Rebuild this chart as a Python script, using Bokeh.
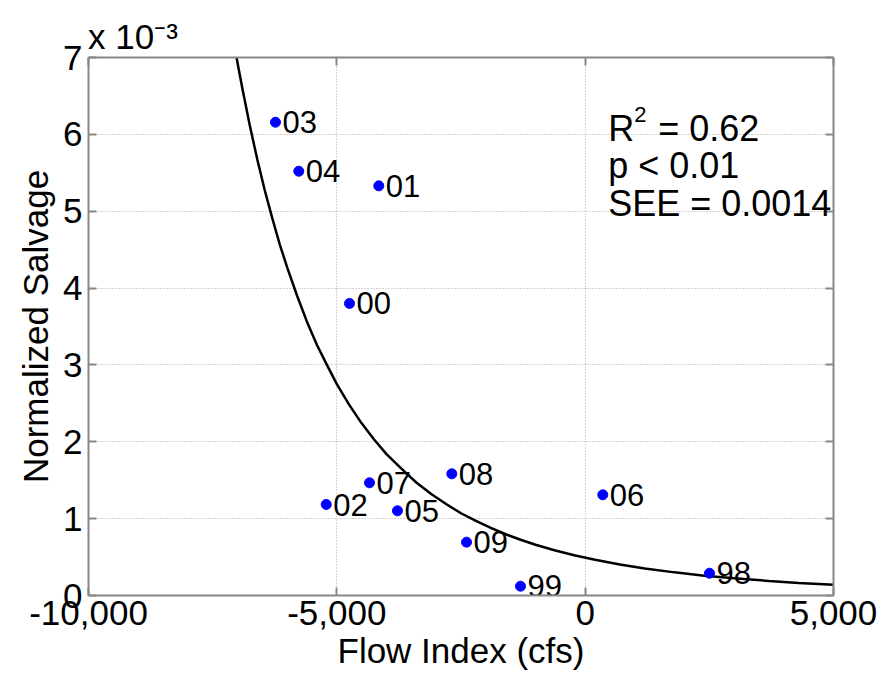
from bokeh.plotting import figure
from bokeh.models import FixedTicker, LinearAxis, Label, Range1d, ColumnDataSource
from bokeh.core.properties import value
from bokeh.embed import file_html
from bokeh.resources import INLINE

# ---- data ----
years = ["03", "04", "01", "00", "08", "07", "02", "05", "06", "09", "99", "98"]
flow_index = [-6235, -5766, -4155, -4745, -2685, -4342, -5214, -3779, 355, -2389, -1302, 2503]
salvage = [6.158e-3, 5.52e-3, 5.33e-3, 3.80e-3, 1.583e-3, 1.466e-3, 1.184e-3, 1.102e-3,
           1.31e-3, 0.694e-3, 0.121e-3, 0.29e-3]

# fitted curve, points
fit_x = [-7020, -6900, -6750, -6600, -6450, -6300, -6150, -6000, -5800, -5600, -5400, -5200,
         -5000, -4750, -4500, -4250, -4000, -3700, -3400, -3100, -2800, -2500, -2200, -1900,
         -1600, -1300, -1000, -600, -200, 200, 700, 1200, 1800, 2400, 3000, 3700, 4300, 5000]
fit_y = [7.00e-3, 6.59e-3, 6.11e-3, 5.67e-3, 5.27e-3, 4.91e-3, 4.57e-3, 4.27e-3, 3.90e-3,
         3.56e-3, 3.26e-3, 3.00e-3, 2.75e-3, 2.48e-3, 2.24e-3, 2.03e-3, 1.84e-3, 1.65e-3,
         1.47e-3, 1.32e-3, 1.19e-3, 1.07e-3, 0.970e-3, 0.879e-3, 0.797e-3, 0.725e-3,
         0.661e-3, 0.586e-3, 0.520e-3, 0.464e-3, 0.403e-3, 0.352e-3, 0.301e-3, 0.258e-3,
         0.223e-3, 0.189e-3, 0.164e-3, 0.141e-3]

x_ticks = [-10000, -5000, 0, 5000]
x_tick_labels = ["-10,000", "-5,000", "0", "5,000"]
y_ticks = [0, 1e-3, 2e-3, 3e-3, 4e-3, 5e-3, 6e-3, 7e-3]
y_tick_labels = ["0", "1", "2", "3", "4", "5", "6", "7"]
exponent_text = "x 10\u207b\u00b3"

stats_lines = ["p < 0.01", "SEE = 0.0014"]

FONT = "Liberation Sans"
AXIS_COLOR = "#888888"

p = figure(width=889, height=675, output_backend="svg", toolbar_location=None,
           x_range=Range1d(x_ticks[0], x_ticks[-1]), y_range=Range1d(y_ticks[0], y_ticks[-1]),
           min_border_left=88, min_border_right=56, min_border_top=57, min_border_bottom=80,
           x_axis_location=None, y_axis_location=None)
p.outline_line_color = None
p.background_fill_color = "white"
p.border_fill_color = "white"

xt = FixedTicker(ticks=x_ticks, minor_ticks=[])
yt = FixedTicker(ticks=y_ticks, minor_ticks=[])


def style_axis(ax):
    ax.axis_line_color = AXIS_COLOR
    ax.axis_line_width = 2
    ax.major_tick_line_color = AXIS_COLOR
    ax.major_tick_line_width = 2
    ax.major_tick_in = 8
    ax.major_tick_out = 0
    ax.minor_tick_line_color = None
    ax.major_label_text_font = FONT
    ax.major_label_text_color = "black"
    ax.major_label_text_font_size = "35px"
    ax.axis_label_text_font = FONT
    ax.axis_label_text_font_size = "35px"
    ax.axis_label_text_font_style = "normal"
    ax.axis_label_text_color = "black"


# bottom axis
xb = LinearAxis(ticker=xt, major_label_overrides=dict(zip(x_ticks, x_tick_labels)),
                axis_label="Flow Index (cfs)")
style_axis(xb)
xb.major_label_standoff = 5
xb.axis_label_standoff = 3
p.add_layout(xb, "below")

# top axis (box edge), carrying the exponent note at its left end
top_labels = {t: "" for t in x_ticks}
top_labels[x_ticks[0]] = "\u00a0" * 9 + exponent_text
xa = LinearAxis(ticker=xt, major_label_overrides=top_labels)
style_axis(xa)
xa.major_label_standoff = 2
p.add_layout(xa, "above")

# left axis
yl = LinearAxis(ticker=yt, major_label_overrides=dict(zip(y_ticks, y_tick_labels)),
                axis_label="Normalized Salvage")
style_axis(yl)
yl.major_label_standoff = 6
yl.axis_label_standoff = 5
p.add_layout(yl, "left")

# right axis (box edge)
yr = LinearAxis(ticker=yt, major_label_overrides={t: "" for t in y_ticks})
style_axis(yr)
yr.major_label_standoff = 0
p.add_layout(yr, "right")

p.xgrid.ticker = xt
p.ygrid.ticker = yt
for g in (p.xgrid, p.ygrid):
    g.grid_line_color = "#a8a8a8"
    g.grid_line_dash = "1 2"
    g.grid_line_width = 1

# fitted curve
p.line(fit_x, fit_y, line_color="black", line_width=2.5)

# points + labels
src = ColumnDataSource(dict(x=flow_index, y=salvage, t=years))
p.scatter("x", "y", source=src, size=10, fill_color="#0000ff", line_color="#0000ff")
p.text("x", "y", text="t", source=src, x_offset=7, text_baseline="middle",
       text_font=value(FONT), text_font_size="31px", text_color="black")

# statistics (anchored at x=0, y=0.006; offsets in pixels, +y is up)
p.add_layout(Label(x=0, y=6e-3, x_offset=23, y_offset=6, text="R",
                   text_baseline="alphabetic", text_font=FONT, text_font_size="36px",
                   text_color="black"))
p.add_layout(Label(x=0, y=6e-3, x_offset=49, y_offset=20, text="2",
                   text_baseline="alphabetic", text_font=FONT, text_font_size="22px",
                   text_color="black"))
p.add_layout(Label(x=0, y=6e-3, x_offset=73, y_offset=6, text="= 0.62",
                   text_baseline="alphabetic", text_font=FONT, text_font_size="36px",
                   text_color="black"))
for i, s in enumerate(stats_lines):
    p.add_layout(Label(x=0, y=6e-3, x_offset=23, y_offset=6 - 37.5 * (i + 1), text=s,
                       text_baseline="alphabetic", text_font=FONT, text_font_size="36px",
                       text_color="black"))

open("out.html", "w").write(file_html(p, INLINE))
